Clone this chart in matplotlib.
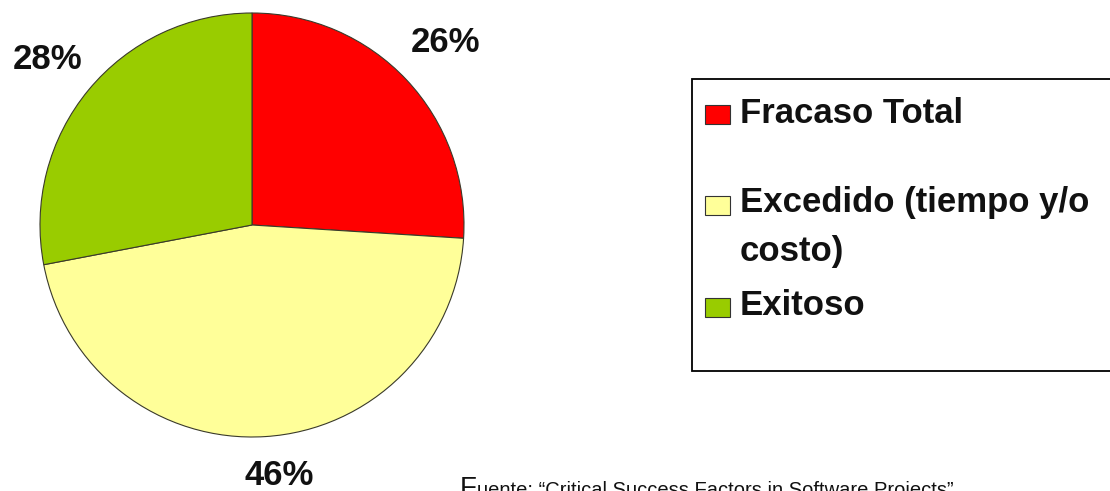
import matplotlib
matplotlib.use("Agg")
import numpy as np
import matplotlib.pyplot as plt
from matplotlib.patches import Rectangle

# ---- data ----
categories = ["Fracaso Total", "Excedido (tiempo y/o\ncosto)", "Exitoso"]
values = [26, 46, 28]
colors = ["#FF0000", "#FFFF99", "#99CC00"]
source_first = "F"
source_rest = "uente: \u201cCritical Success Factors in Software Projects\u201d"

W, H = 1110, 491
fig = plt.figure(figsize=(W / 100, H / 100), dpi=100)
fig.patch.set_facecolor("white")

def fx(px):
    return px / W

def fy(py):
    return 1 - py / H

# pie axes: center (252,225), radius 212 px
cx, cy, r = 252, 225, 212
ax = fig.add_axes([fx(cx - r), fy(cy + r), 2 * r / W, 2 * r / H])
wedges, texts, autotexts = ax.pie(
    values, colors=colors, startangle=90, counterclock=False,
    autopct="%1.0f%%", pctdistance=1.235, radius=1.0,
    wedgeprops=dict(edgecolor="#3a3a2a", linewidth=0.8),
    textprops=dict(fontsize=25, fontweight="bold", family="Liberation Sans",
                   color="#111111"),
)
# label placement: distance and small angular offset per label
label_dist = [1.255, 1.19, 1.24]
label_dang = [0.0, 2.5, 0.5]
for w, t, d, da in zip(wedges, autotexts, label_dist, label_dang):
    mid = np.deg2rad((w.theta1 + w.theta2) / 2 + da)
    t.set_position((d * np.cos(mid), d * np.sin(mid)))

ax.set_xlim(-1, 1)
ax.set_ylim(-1, 1)
ax.set_aspect("auto")
ax.axis("off")

# ---- legend box (drawn manually) ----
box_l, box_t, box_b, box_r = 692, 79, 371, 1140
fig.patches.append(Rectangle((fx(box_l), fy(box_b)), (box_r - box_l) / W,
                             (box_b - box_t) / H, transform=fig.transFigure,
                             facecolor="white", edgecolor="black",
                             linewidth=1.3, zorder=1))

sq_centers = [114, 206, 307]
line_baselines = [[123], [212, 261], [315]]
for i, label in enumerate(categories):
    fig.patches.append(Rectangle((fx(705), fy(sq_centers[i] + 9.5)), 25 / W, 19 / H,
                                 transform=fig.transFigure, facecolor=colors[i],
                                 edgecolor="#333333", linewidth=0.8, zorder=2))
    for line, base in zip(label.split("\n"), line_baselines[i]):
        fig.text(fx(740), fy(base), line, fontsize=25, fontweight="bold",
                 family="Liberation Sans", color="#111111",
                 ha="left", va="baseline", zorder=3)

# ---- source note (clipped at bottom, as in the original) ----
fig.text(fx(460), fy(496), source_first, fontsize=20, family="Liberation Sans",
         color="#111111", ha="left", va="baseline")
fig.text(fx(477), fy(496), source_rest, fontsize=14.5, family="Liberation Sans",
         color="#111111", ha="left", va="baseline")

fig.savefig("out.png", dpi=100)
